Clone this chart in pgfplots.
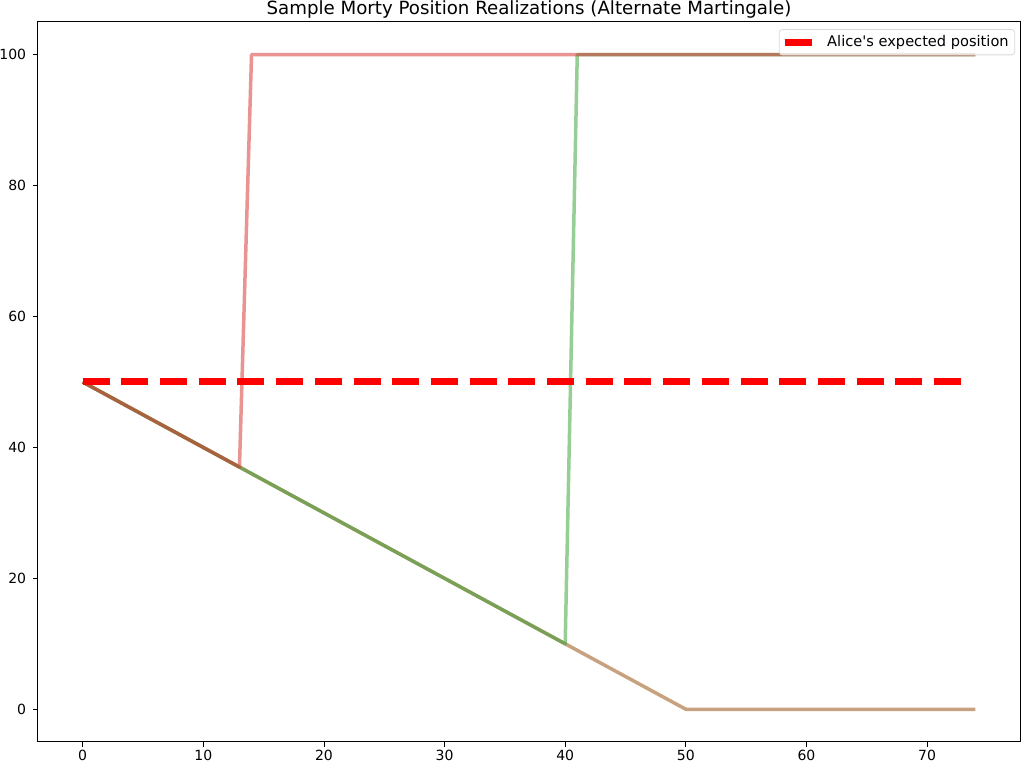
\documentclass[border=0pt]{standalone}
\usepackage{fontspec}
\setmainfont{DejaVu Sans}
\usepackage{pgfplots}
\pgfplotsset{compat=1.18}

\definecolor{mred}{RGB}{214,39,40}
\definecolor{mgreen}{RGB}{44,160,44}
\definecolor{mtan}{RGB}{145,68,0}

\begin{document}
\begin{tikzpicture}
\useasboundingbox (-19pt,-10.5pt) rectangle (493pt,371pt);
\begin{axis}[
  scale only axis, width=491pt, height=360pt,
  xmin=-3.7, xmax=77.7, ymin=-5, ymax=105,
  xtick={0,10,...,70}, ytick={0,20,...,100},
  tick align=outside, tick pos=left,
  major tick length=2.4pt,
  every tick/.style={black, line width=0.4pt},
  axis line style={line width=0.5pt},
  tick label style={font=\fontsize{7}{8.4}\selectfont},
  xticklabel style={yshift=2pt},
  /pgf/number format/assume math mode=true,
  title={Sample Morty Position Realizations (Alternate Martingale)},
  title style={font=\fontsize{9.1}{10.5}\selectfont, yshift=-7.5pt},
  legend style={at={(0.995,0.99)}, anchor=north east,
    draw=black!15, rounded corners=1.5pt, fill=white, fill opacity=0.8,
    text opacity=1, font=\fontsize{7.3}{8.8}\selectfont,
    inner xsep=1pt, inner ysep=0pt,
    nodes={inner xsep=2pt, inner ysep=2.8pt}},
  legend image code/.code={\draw[#1, solid] (0pt,0pt) -- (13.5pt,0pt);
    \path (0pt,0pt) -- (17.5pt,0pt);},
  legend cell align=left,
]
% sample realizations (alpha 0.5, drawn in this order)
\addplot[mtan, opacity=0.5, line width=1.75pt, line join=round, forget plot]
  coordinates {(0,50) (50,0) (74,0)};
\addplot[mgreen, opacity=0.5, line width=1.75pt, line join=round, forget plot]
  coordinates {(0,50) (40,10) (41,100) (74,100)};
\addplot[mred, opacity=0.5, line width=1.75pt, line join=round, forget plot]
  coordinates {(0,50) (13,37) (14,100) (74,100)};
% Alice's expected position
\addplot[red, line width=3.5pt, dash pattern=on 13.5pt off 5.85pt]
  coordinates {(0,50) (73,50)};
\addlegendentry{Alice\textquotesingle s expected position}
\end{axis}
\end{tikzpicture}
\end{document}
